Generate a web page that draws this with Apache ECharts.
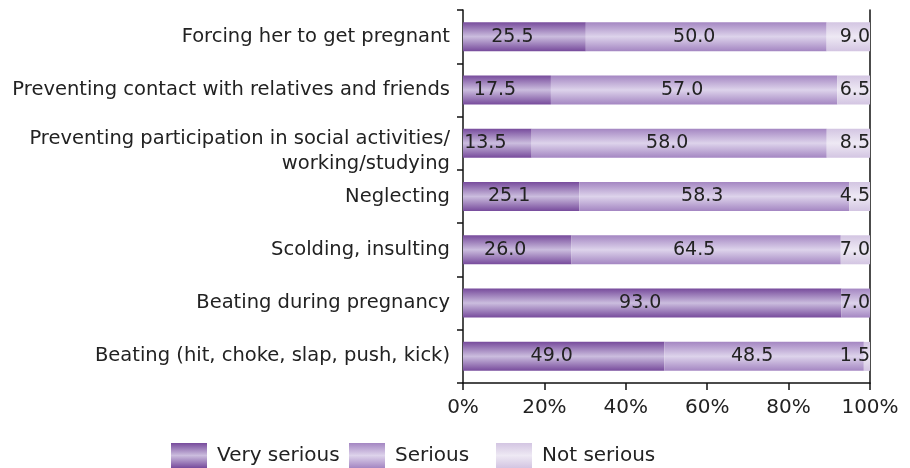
<!DOCTYPE html>
<html>
<head>
<meta charset="utf-8">
<script src="https://cdn.jsdelivr.net/npm/echarts@6/dist/echarts.min.js"></script>
<style>
  html, body { margin: 0; padding: 0; background: #fff; }
  #chart { width: 910px; height: 468px; }
</style>
</head>
<body>
<div id="chart"></div>
<script>
// Forms of violence, rated by perceived seriousness (raw shares, shown as 100% stacked bars)
const categories = [
  'Forcing her to get pregnant',
  'Preventing contact with relatives and friends',
  'Preventing participation in social activities/\nworking/studying',
  'Neglecting',
  'Scolding, insulting',
  'Beating during pregnancy',
  'Beating (hit, choke, slap, push, kick)'
];
const verySerious = [25.5, 17.5, 13.5, 25.1, 26.0, 93.0, 49.0];
const serious     = [50.0, 57.0, 58.0, 58.3, 64.5, 7.0, 48.5];
const notSerious  = [9.0, 6.5, 8.5, 4.5, 7.0, 0, 1.5];
const seriesNames = ['Very serious', 'Serious', 'Not serious'];
const xTicks = [0, 20, 40, 60, 80, 100];

const FONT = 'DejaVu Sans, Verdana, sans-serif';
const TEXT = '#222';
const totals = categories.map((_, i) => verySerious[i] + serious[i] + notSerious[i]);

function band(edge, mid) {
  return new echarts.graphic.LinearGradient(0, 0, 0, 1, [
    { offset: 0, color: edge },
    { offset: 0.5, color: mid },
    { offset: 1, color: edge }
  ]);
}
const fills = [
  band('#774b9c', '#cbbdde'),
  band('#a486c2', '#ddd3eb'),
  band('#d3c5e2', '#eee9f4')
];

// Each bar is that row's share of its own total; the label keeps the raw figure
function buildData(values) {
  return values.map((v, i) => {
    const share = v / totals[i] * 100;
    const small = share < 12;
    return {
      value: share,
      raw: v,
      label: v === 0 ? { show: false } : (small
        ? { position: 'insideRight', distance: 0, offset: [0, 0] }
        : { position: 'inside', offset: [-12, 0] })
    };
  });
}

const series = [verySerious, serious, notSerious].map((vals, k) => ({
  name: seriesNames[k],
  type: 'bar',
  stack: 'total',
  barWidth: 29,
  data: buildData(vals),
  itemStyle: { color: fills[k] },
  label: {
    show: true,
    color: TEXT,
    fontFamily: FONT,
    fontSize: 19,
    formatter: p => p.data.raw.toFixed(1)
  },
  emphasis: { disabled: true }
}));

const legendLefts = [171, 349, 496];
const legends = seriesNames.map((name, k) => ({
  data: [name],
  left: legendLefts[k],
  top: 443,
  padding: 0,
  icon: 'rect',
  itemWidth: 36,
  itemHeight: 25,
  itemGap: 0,
  selectedMode: false,
  textStyle: { color: TEXT, fontFamily: FONT, fontSize: 20, padding: [0, 0, 0, 5] }
}));

const chart = echarts.init(document.getElementById('chart'), null, { renderer: 'canvas' });
chart.setOption({
  animation: false,
  backgroundColor: '#fff',
  grid: { left: 463, right: 40, top: 10, bottom: 85, containLabel: false },
  legend: legends,
  xAxis: {
    type: 'value',
    min: 0,
    max: 100,
    interval: 20,
    axisLine: { show: true, lineStyle: { color: '#111', width: 1.5 } },
    axisTick: { show: true, length: 7, lineStyle: { color: '#111', width: 1.5 } },
    splitLine: { show: false },
    axisLabel: {
      color: TEXT, fontFamily: FONT, fontSize: 20, margin: 15,
      formatter: v => xTicks.includes(v) ? v + '%' : ''
    }
  },
  yAxis: [
    {
      type: 'category',
      data: categories,
      inverse: true,
      axisLine: { show: true, lineStyle: { color: '#111', width: 1.5 } },
      axisTick: { show: true, length: 6, lineStyle: { color: '#111', width: 1.5 } },
      axisLabel: {
        color: TEXT, fontFamily: FONT, fontSize: 19.5, margin: 13,
        lineHeight: 25, align: 'right',
        formatter: v => v.includes('\n') ? '{two|' + v.split('\n').join('}\n{two|') + '}' : v,
        rich: {
          two: { color: TEXT, fontFamily: FONT, fontSize: 19.5, lineHeight: 25, padding: [17, 0, 0, 0] }
        }
      }
    },
    {
      type: 'category',
      data: categories,
      inverse: true,
      position: 'right',
      axisLine: { show: true, lineStyle: { color: '#111', width: 1.5 } },
      axisTick: { show: false },
      axisLabel: { show: false }
    }
  ],
  series: series
});
</script>
</body>
</html>
